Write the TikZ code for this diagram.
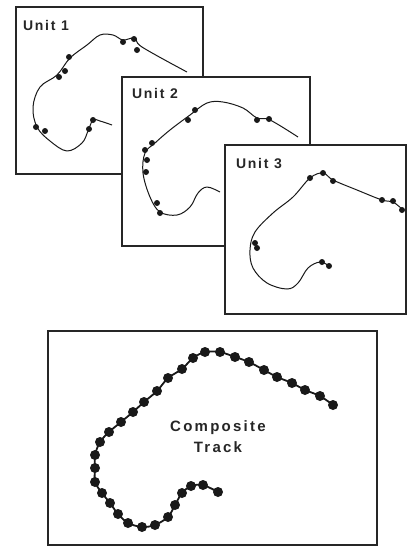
\documentclass[tikz,border=0pt]{standalone}
\usepackage{fontspec}
\setmainfont{Liberation Sans}
\newfontfamily\lblfont[LetterSpace=12]{Liberation Sans}
\newfontfamily\clblfont[LetterSpace=15]{Liberation Sans}
\begin{document}
\begin{tikzpicture}[x=1pt,y=-1pt,
  unitbox/.style={draw=black!85,line width=1.3pt,fill=white},
  track/.style={draw=black!90,line width=1pt,line join=round},
  dot/.style={fill=black!90},
  lbl/.style={inner sep=0pt,anchor=base west,font=\lblfont\fontsize{14}{16}\selectfont\bfseries,text=black!85},
  clbl/.style={inner sep=0pt,align=center,font=\clblfont\fontsize{15}{21}\selectfont\bfseries,text=black!85}]
\useasboundingbox (0,0) rectangle (409,547);
\fill[white] (0,0) rectangle (409,547);

% ---- Unit 1 ----
\draw[unitbox] (16,7) rectangle (203,174);
\node[lbl] (u1) at (23,30) {Unit 1};
\draw[track] plot[smooth,tension=0.6] coordinates {(112,125) (100,121) (93,120) (88,131) (82,143) (67,151) (50,141) (37,127) (33,107) (40,87) (57,75) (70,58) (87,45) (100,35) (113,35) (123,40) (135,38) (142,47) (187,72)};
\foreach \p in {(69,57),(65,71),(59,77),(45,131),(36,127),(89,129),(93,120),(123,42),(134,39),(137,50)}
  \fill[dot] \p circle (3);

% ---- Unit 2 ----
\draw[unitbox] (122,77) rectangle (310,246);
\node[lbl] (u2) at (132,98) {Unit 2};
\draw[track] plot[smooth,tension=0.6] coordinates {(220,192) (207,187) (198,193) (190,207) (177,215) (160,212) (150,197) (143,173) (145,153) (155,143) (170,130) (190,115) (207,103) (223,102) (243,108) (257,118) (270,120) (298,137)};
\foreach \p in {(195,110),(188,120),(152,143),(145,150),(147,160),(146,172),(157,203),(160,213),(257,120),(269,119)}
  \fill[dot] \p circle (3);

% ---- Unit 3 ----
\draw[unitbox] (225,145) rectangle (406,314);
\node[lbl] (u3) at (236,168) {Unit 3};
\draw[track] plot[smooth,tension=0.6] coordinates {(329,266) (320,262) (308,268) (298,283) (287,289) (267,283) (253,268) (250,250) (255,232) (273,213) (293,197) (310,178) (323,173) (333,180) (357,190) (382,200) (393,202) (403,210)};
\foreach \p in {(310,178),(323,173),(333,181),(382,200),(393,201),(402,210),(255,243),(257,248),(322,262),(329,266)}
  \fill[dot] \p circle (3);

% ---- Composite ----
\draw[unitbox] (48,331) rectangle (377,545);
\node[clbl] (ct) at (218,437) {Composite\\Track};
\draw[track,line width=1.8pt] plot[smooth,tension=0.5] coordinates {(333,405) (320,396) (305,390) (292,383) (277,377) (264,370) (249,362) (235,357) (220,352) (205,352) (193,358) (182,369) (168,378) (157,391) (144,402) (133,412) (121,422) (109,432) (100,442) (95,455) (95,468) (95,482) (102,493) (110,503) (118,514) (128,523) (142,527) (155,525) (168,517) (175,505) (182,493) (191,486) (203,485) (218,492)};
\foreach \p in {(333,405),(320,396),(305,390),(292,383),(277,377),(264,370),(249,362),(235,357),(220,352),(205,352),(193,358),(182,369),(168,378),(157,391),(144,402),(133,412),(121,422),(109,432),(100,442),(95,455),(95,468),(95,482),(102,493),(110,503),(118,514),(128,523),(142,527),(155,525),(168,517),(175,505),(182,493),(191,486),(203,485),(218,492)}
  \fill[dot] \p circle (5);
\end{tikzpicture}
\end{document}
